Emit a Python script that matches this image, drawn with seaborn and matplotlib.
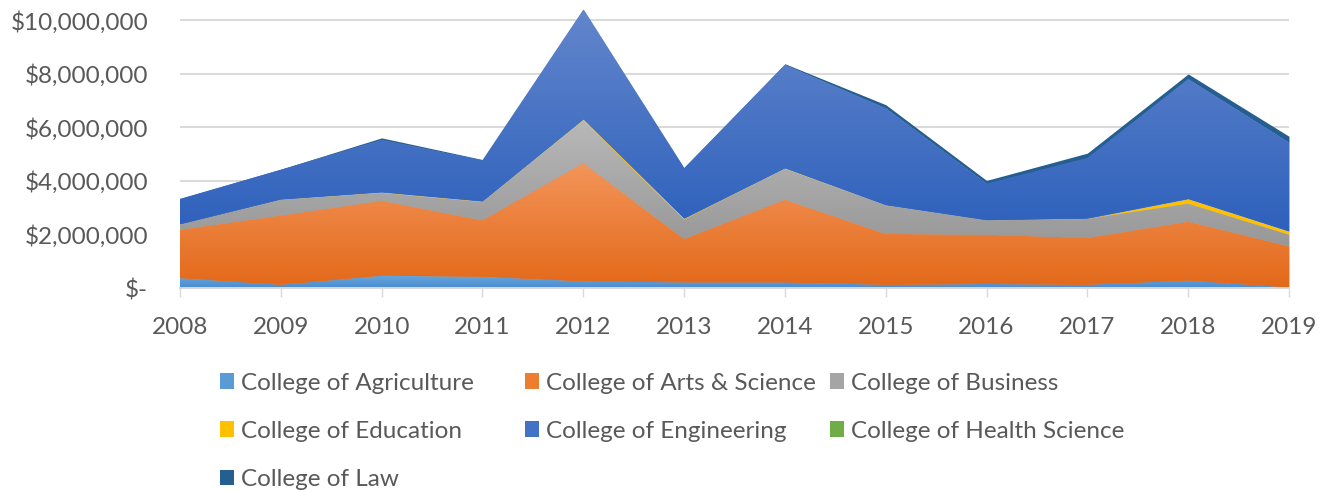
import numpy as np
import matplotlib
matplotlib.use("Agg")
import matplotlib.pyplot as plt
import seaborn as sns
from matplotlib.patches import Patch
from matplotlib.colors import LinearSegmentedColormap
from matplotlib.ticker import FuncFormatter

# ---- data (values in $ millions) ----
years = [2008, 2009, 2010, 2011, 2012, 2013, 2014, 2015, 2016, 2017, 2018, 2019]
agriculture = [0.37, 0.12, 0.46, 0.42, 0.25, 0.21, 0.21, 0.12, 0.15, 0.12, 0.28, 0.02]
arts_science = [1.81, 2.59, 2.80, 2.11, 4.42, 1.62, 3.09, 1.90, 1.84, 1.75, 2.20, 1.54]
business = [0.19, 0.59, 0.29, 0.68, 1.59, 0.72, 1.15, 1.07, 0.54, 0.71, 0.67, 0.43]
education = [0.01, 0.01, 0.03, 0.03, 0.05, 0.05, 0.03, 0.01, 0.005, 0.02, 0.18, 0.13]
engineering = [0.95, 1.11, 1.96, 1.53, 4.09, 1.88, 3.86, 3.62, 1.365, 2.26, 4.48, 3.32]
health_science = [0.0, 0.0, 0.0, 0.0, 0.0, 0.0, 0.0, 0.0, 0.0, 0.0, 0.0, 0.0]
law = [0.01, 0.02, 0.07, 0.03, 0.02, 0.01, 0.04, 0.13, 0.12, 0.18, 0.19, 0.23]

labels = ["College of Agriculture", "College of Arts & Science", "College of Business",
          "College of Education", "College of Engineering", "College of Health Science",
          "College of Law"]
series = [agriculture, arts_science, business, education, engineering, health_science, law]
colors = ["#5B9BD5", "#ED7D31", "#A5A5A5", "#FFC000", "#4472C4", "#70AD47", "#255E91"]
# gradient (bottom, top) for the larger areas
gradients = {0: ("#4A8DD0", "#66A6DD"), 1: ("#E3691A", "#F3955A"),
             2: ("#989898", "#B8B8B8"), 4: ("#2E61BC", "#6386CC")}

sns.set_theme(style="white")
plt.rcParams["font.family"] = ["Lato", "DejaVu Sans"]

W, H = 1319, 492
fig = plt.figure(figsize=(W / 100, H / 100), dpi=100)
x0, x1, ybase, ytop = 180, 1289, 288, 1
ax = fig.add_axes([x0 / W, 1 - ybase / H, (x1 - x0) / W, (ybase - ytop) / H])

vals = [np.array(s) * 1e6 for s in series]
polys = ax.stackplot(years, *vals, colors=colors, linewidth=0, zorder=2)
for i, poly in enumerate(polys):
    if i in gradients:
        cb, ct = gradients[i]
        path = poly.get_paths()[0]
        verts = path.vertices
        ymn, ymx = verts[:, 1].min(), verts[:, 1].max()
        cmap = LinearSegmentedColormap.from_list(f"g{i}", [cb, ct])
        im = ax.imshow(np.linspace(0, 1, 256).reshape(-1, 1), extent=[years[0], years[-1], ymn, ymx],
                       origin="lower", cmap=cmap, aspect="auto", zorder=2.1, interpolation="bilinear")
        im.set_clip_path(path, transform=ax.transData)

ax.set_xlim(years[0], years[-1])
ax.set_ylim(0, 10.0e6 * (ybase - ytop) / 267.6)
ax.set_yticks(np.arange(0, 10.01e6, 2e6))
ax.yaxis.set_major_formatter(FuncFormatter(lambda v, p: "$-" if v == 0 else f"${v:,.0f}"))
ax.set_xticks(years)
ax.set_xticklabels([str(y) for y in years])

fs = 17.5
ax.grid(axis="y", color="#D9D9D9", linewidth=1.4, zorder=0)
ax.grid(axis="x", visible=False)
ax.set_axisbelow(True)
for s in ["left", "right", "top"]:
    ax.spines[s].set_visible(False)
ax.spines["bottom"].set_color("#D9D9D9")
ax.spines["bottom"].set_linewidth(1.4)
ax.spines["bottom"].set_zorder(3)
ax.tick_params(axis="x", bottom=True, length=6.5, width=1.0, color="#D9D9D9", pad=14.5,
               labelsize=fs, labelcolor="#595959")
ax.tick_params(axis="y", left=False, length=0, pad=23, labelsize=fs, labelcolor="#595959")
ax.set_facecolor("white")

# legend: three equal-width columns like the reference
handles = [Patch(facecolor=c, edgecolor="none") for c in colors]
col_items = [[0, 3, 6], [1, 4], [2, 5]]
col_x = [220, 524.5, 829.5]
for items, cx in zip(col_items, col_x):
    leg = fig.legend([handles[i] for i in items], [labels[i] for i in items],
                     loc="upper left", bbox_to_anchor=(cx / W, 1 - 372.5 / H),
                     frameon=False, fontsize=fs, borderpad=0, borderaxespad=0,
                     handlelength=0.58, handleheight=0.62, handletextpad=0.3,
                     labelspacing=1.12, labelcolor="#595959")

fig.savefig("out.png", dpi=100, facecolor="white")
